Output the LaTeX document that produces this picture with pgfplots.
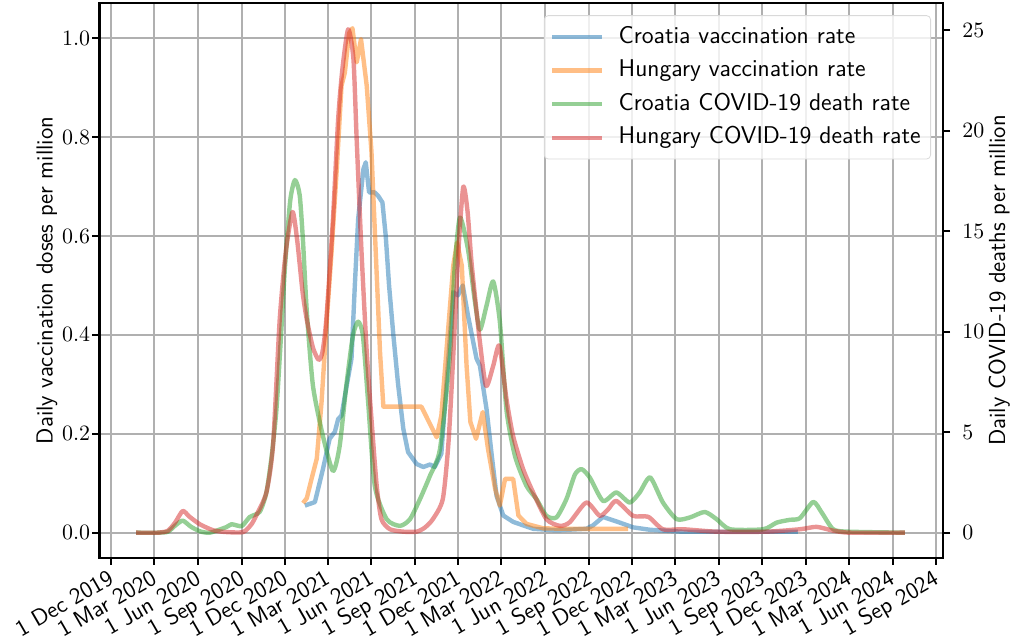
\documentclass[border=0pt]{standalone}
\usepackage{fontspec}
\usepackage{pgfplots}
\pgfplotsset{compat=1.18}
\renewcommand{\familydefault}{\sfdefault}

\definecolor{cblue}{RGB}{31,119,180}
\definecolor{corange}{RGB}{255,127,14}
\definecolor{cgreen}{RGB}{44,160,44}
\definecolor{cred}{RGB}{214,39,40}
\definecolor{gridgray}{RGB}{176,176,176}

% x values are days since 1 Dec 2019
\pgfplotsset{
  twin/.style={
    scale only axis, width=421.75pt, height=277.5pt,
    xmin=-24, xmax=1750,
    xtick={0,91,183,275,366,456,548,640,731,821,913,1005,1096,1186,1278,1370,1461,1552,1644,1736},
    tick align=outside, major tick length=3.5pt,
    every tick/.style={black, line width=1pt},
    axis line style={line width=1.3pt},
    yticklabel style={font=\fontsize{11}{13}\selectfont, inner sep=0pt},
  },
  series/.style={line width=2.2pt, opacity=0.5, line join=round},
}

\begin{document}
\begin{tikzpicture}
\begin{axis}[twin,
  ymin=-0.051, ymax=1.071,
  ytick={0,0.2,0.4,0.6,0.8,1.0},
  yticklabel style={anchor=east, xshift=-1pt, /pgf/number format/.cd, fixed, fixed zerofill, precision=1},
  xtick pos=bottom, ytick pos=left,
  xticklabels={1 Dec 2019,1 Mar 2020,1 Jun 2020,1 Sep 2020,1 Dec 2020,1 Mar 2021,1 Jun 2021,1 Sep 2021,1 Dec 2021,1 Mar 2022,1 Jun 2022,1 Sep 2022,1 Dec 2022,1 Mar 2023,1 Jun 2023,1 Sep 2023,1 Dec 2023,1 Mar 2024,1 Jun 2024,1 Sep 2024},
  xticklabel style={font=\fontsize{11.6}{14}\selectfont, rotate=30, anchor=north east, inner sep=0.5pt, xshift=-2pt},
  grid=major, major grid style={gridgray, line width=1pt},
  ylabel={Daily vaccination doses per million},
  every axis y label/.style={at={(axis description cs:-0.0622,0.5)}, rotate=90, anchor=center,
    font=\fontsize{11.6}{13}\selectfont},
]
% Croatia vaccination rate
\addplot[series, cblue] coordinates {
(408,0.055) (429,0.062) (446,0.129) (460,0.19) (471,0.204) (478,0.23) (485,0.237)
(496,0.298) (506,0.352) (513,0.50) (520,0.634) (531,0.735) (536,0.749) (543,0.688)
(555,0.688) (562,0.681) (571,0.668) (578,0.60) (585,0.50) (594,0.40) (604,0.30)
(615,0.21) (625,0.163) (643,0.139) (657,0.133) (671,0.138) (681,0.133) (695,0.16)
(706,0.305) (720,0.486) (730,0.48) (740,0.50) (751,0.439) (769,0.352) (776,0.338)
(790,0.25) (801,0.156) (811,0.075) (825,0.035) (846,0.022) (888,0.008) (937,0.005)
(1000,0.008) (1014,0.015) (1035,0.032) (1063,0.023) (1098,0.011) (1134,0.006)
(1204,0.002) (1445,0.002)
};
% Hungary vaccination rate
\addplot[series, corange] coordinates {
(404,0.06) (412,0.07) (422,0.109) (433,0.15) (443,0.264) (454,0.43) (464,0.567)
(475,0.735) (485,0.904) (492,0.93) (501,1.01) (508,1.02) (517,0.951) (526,0.998)
(538,0.904) (548,0.77) (557,0.567) (566,0.365) (573,0.255) (653,0.255) (685,0.193)
(695,0.237) (706,0.372) (720,0.54) (728,0.587) (738,0.54) (748,0.338) (756,0.224)
(768,0.19) (782,0.244) (793,0.17) (808,0.089) (818,0.055) (829,0.109) (846,0.109)
(857,0.035) (874,0.018) (909,0.009) (958,0.008) (1088,0.008)
};
\end{axis}
\begin{axis}[twin,
  ymin=-1.26, ymax=26.36,
  ytick={0,5,10,15,20,25},
  yticklabel style={anchor=west, xshift=6pt},
  axis x line=none, axis y line*=right, ytick pos=right,
  ylabel={Daily COVID-19 deaths per million},
  every axis y label/.style={at={(axis description cs:1.0666,0.5)}, rotate=90, anchor=center,
    font=\fontsize{11.6}{13}\selectfont},
  legend style={at={(0.9858,0.978)}, anchor=north east,
    draw=black!15, rounded corners=2pt, fill=white, fill opacity=0.8, text opacity=1,
    font=\fontsize{12.1}{14}\selectfont, row sep=1.5pt, inner sep=3pt,
    nodes={inner sep=2pt, text height=8.7pt, text depth=2.6pt},
    /tikz/every odd column/.append style={column sep=5pt}},
  legend cell align=left,
  legend image code/.code={\draw[#1] (0pt,0pt) -- (25pt,0pt);},
]
\addlegendimage{series, cblue}
\addlegendentry{Croatia vaccination rate}
\addlegendimage{series, corange}
\addlegendentry{Hungary vaccination rate}
% Croatia COVID-19 death rate
\addplot[series, cgreen, smooth, tension=0.4] coordinates {
(53,0) (100,0) (120,0.05) (135,0.35) (151,0.6) (168,0.3) (187,0.07) (208,0)
(243,0.28) (254,0.42) (275,0.33) (292,0.78) (313,1.04) (327,2.0) (338,3.8) (348,6.1)
(357,9.5) (366,13.2) (377,16.5) (387,17.55) (397,16.8) (404,14.5) (412,11.0)
(425,7.3) (446,4.8) (467,3.07) (481,4.3) (495,7.3) (509,9.8) (520,10.5) (530,9.8)
(541,6.5) (555,2.33) (580,0.67) (608,0.34) (629,0.67) (650,1.67) (671,2.83)
(692,4.15) (713,8.8) (723,13.2) (734,15.68) (751,14.1) (765,11.6) (776,10.1)
(790,11.3) (804,12.5) (818,10.5) (832,6.1) (850,3.8) (874,2.33) (895,1.67)
(916,0.84) (937,0.76) (958,1.67) (976,2.9) (990,3.16) (1007,2.75) (1035,1.58)
(1063,2.0) (1091,1.5) (1112,2.0) (1134,2.75) (1161,1.5) (1190,0.67) (1218,0.76)
(1249,1.03) (1274,0.67) (1302,0.17) (1372,0.17) (1400,0.5) (1428,0.64) (1449,0.72)
(1477,1.53) (1495,1.0) (1519,0.17) (1551,0.05) (1670,0)
};
\addlegendentry{Croatia COVID-19 death rate}
% Hungary COVID-19 death rate
\addplot[series, cred, smooth, tension=0.4] coordinates {
(53,0) (100,0) (120,0.1) (135,0.5) (151,1.08) (165,0.8) (187,0.42) (215,0.12)
(243,0.03) (278,0.03) (295,0.4) (306,0.87) (327,2.0) (341,4.35) (355,10.6)
(368,14.0) (382,15.96) (392,14.5) (403,12.0) (412,10.6) (425,9.2) (437,8.6)
(445,9.0) (453,10.6) (467,15.6) (478,20.6) (487,23.1) (499,25.05) (510,23.6)
(517,19.5) (527,14.0) (538,9.0) (548,5.65) (559,2.33) (569,0.67) (587,0.17)
(615,0.05) (643,0.05) (660,0.25) (677,0.67) (698,1.67) (710,4.5) (720,8.8)
(731,14.1) (741,17.2) (750,16.0) (759,13.3) (776,9.5) (789,7.3) (804,8.3)
(817,9.3) (832,6.64) (846,4.8) (867,3.16) (888,2.0) (916,0.67) (944,0.34)
(965,0.52) (1000,1.5) (1028,0.84) (1046,1.17) (1063,1.58) (1098,0.84) (1130,0.79)
(1161,0.17) (1204,0.17) (1274,0.05) (1379,0.05) (1449,0.17) (1484,0.29)
(1519,0.1) (1554,0) (1670,0)
};
\addlegendentry{Hungary COVID-19 death rate}
\end{axis}
\pgfresetboundingbox
\useasboundingbox (-49.75pt,-42pt) rectangle (456.75pt,279pt);
\end{tikzpicture}
\end{document}
